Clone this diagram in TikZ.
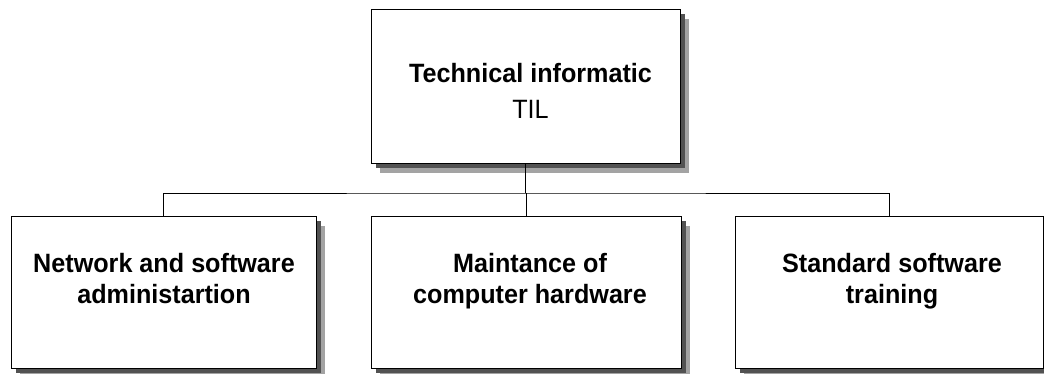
\documentclass[tikz,border=0pt]{standalone}
\usepackage{fontspec}
\setmainfont{Liberation Sans}
\newfontfamily\lblfont[FakeStretch=0.95]{Liberation Sans}
\begin{document}
\begin{tikzpicture}[x=1pt,y=-1pt,
  box/.style={draw=black,line width=0.9pt,fill=white,inner sep=0pt},
  lbl/.style={anchor=base,inner sep=0pt,font=\lblfont\fontsize{26.5}{30}\selectfont\bfseries},
  conn/.style={draw=black,line width=0.9pt}]
\useasboundingbox (0,0) rectangle (1044,373);
% shadows
\newcommand{\shadowbox}[4]{%
  \fill[black!36] (#1+9,#2+10) rectangle (#3+9,#4+10);
  \fill[black!68] (#1+5,#2+5) rectangle (#3+5,#4+5);}
\shadowbox{371}{9}{680}{163}
\shadowbox{11}{216}{316}{368}
\shadowbox{371}{216}{681}{368}
\shadowbox{735}{216}{1043}{368}
% boxes
\node[box,minimum width=309pt,minimum height=154pt] (top) at (525.5,86) {};
\node[box,minimum width=305pt,minimum height=152pt] (left) at (163.5,292) {};
\node[box,minimum width=310pt,minimum height=152pt] (mid) at (526,292) {};
\node[box,minimum width=308pt,minimum height=152pt] (right) at (889,292) {};
% connectors
\coordinate (bus) at (526,193);
\draw[conn] (top.south) -- (top.south |- bus);
\draw[conn] (left.north) |- (bus) -| (right.north);
\draw[conn] (mid.north) -- (mid.north |- bus);
% texts
\node[lbl] (t1) at (530.5,82) {Technical informatic};
\node[lbl,font=\lblfont\fontsize{26.5}{30}\selectfont] (t2) at (530.5,118) {TIL};
\node[lbl] (l1) at (164,272) {Network and software};
\node[lbl] (l2) at (164,303) {administartion};
\node[lbl] (m1) at (530,272) {Maintance of};
\node[lbl] (m2) at (530,303) {computer hardware};
\node[lbl] (r1) at (892,272) {Standard software};
\node[lbl] (r2) at (892,303) {training};
\end{tikzpicture}
\end{document}
